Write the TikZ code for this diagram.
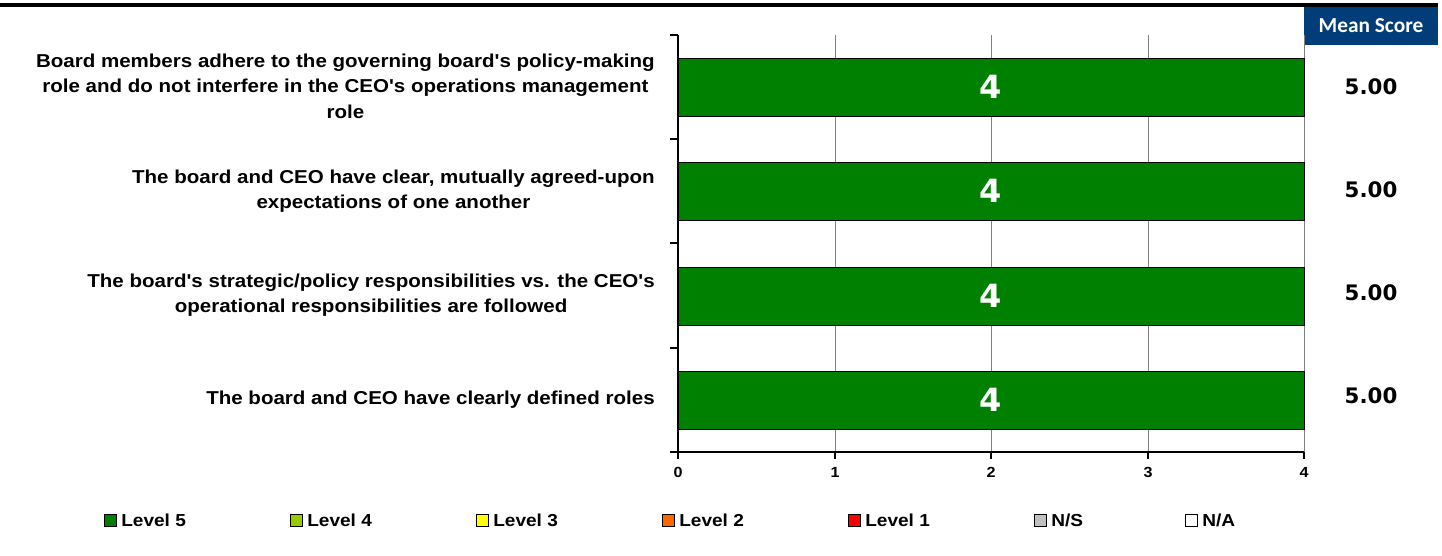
\documentclass[tikz,border=0pt]{standalone}
\usepackage{fontspec}
\setmainfont{Liberation Sans}
\newfontfamily\lblfont[FakeStretch=1.1]{Liberation Sans}
\newfontfamily\numfont{DejaVu Sans}
\newfontfamily\hdrfont{Carlito}
\definecolor{levelfive}{RGB}{0,128,0}
\definecolor{levelfour}{RGB}{153,204,0}
\definecolor{levelthree}{RGB}{255,255,0}
\definecolor{leveltwo}{RGB}{255,102,0}
\definecolor{levelone}{RGB}{255,0,0}
\definecolor{levelns}{RGB}{192,192,192}
\definecolor{hdrblue}{RGB}{0,61,121}
\tikzset{
  qlabel/.style={anchor=east,align=center,inner sep=0pt,font=\lblfont\bfseries\fontsize{14}{19}\selectfont},
  barbox/.style={draw=black,line width=0.6pt,fill=levelfive},
  barnum/.style={text=white,font=\numfont\bfseries\fontsize{24}{24}\selectfont},
  meanval/.style={font=\numfont\bfseries\fontsize{16}{16}\selectfont},
  ticklbl/.style={font=\lblfont\bfseries\fontsize{11}{12}\selectfont},
  legbox/.style={draw=black,line width=0.5pt,minimum size=9pt,inner sep=0pt,anchor=north west},
  legtxt/.style={anchor=west,inner sep=0pt,font=\lblfont\bfseries\fontsize{13}{13}\selectfont},
  gridln/.style={draw={rgb,255:red,128;green,128;blue,128},line width=0.6pt}
}
\begin{document}
\begin{tikzpicture}[x=0.75pt,y=0.75pt,yscale=-1,xscale=1]
\path (0,0) rectangle (1442,556); %set diagram to 1442 x 556

%Top rule
\fill [black] (0,3) rectangle (1438,7) ;
%Header box
\node [fill=hdrblue,text=white,minimum width=100.5pt,minimum height=28.5pt,inner sep=0pt,font=\hdrfont\bfseries\fontsize{16}{16}\selectfont] (hdr) at (1371,26) {Mean Score};

%Grid lines
\draw [gridln] (835,35) -- (835,452) ;
\draw [gridln] (991,35) -- (991,452) ;
\draw [gridln] (1148,35) -- (1148,452) ;
\draw [gridln] (1304,35) -- (1304,452) ;

%Bars
\draw [barbox] (678,58) rectangle (1304,116) ;
\draw [barbox] (678,162) rectangle (1304,220) ;
\draw [barbox] (678,267) rectangle (1304,325) ;
\draw [barbox] (678,371) rectangle (1304,429) ;
\node [barnum] (cnta) at (991,87) {4};
\node [barnum] (cntb) at (991,191) {4};
\node [barnum] (cntc) at (991,296) {4};
\node [barnum] (cntd) at (991,400) {4};

%Axes
\draw [black,line width=0.9pt] (678,35) -- (678,452) ;
\draw [black,line width=0.9pt] (670,452) -- (1304,452) ;
%Left ticks
\draw [black,line width=0.9pt] (670,35) -- (678,35) ;
\draw [black,line width=0.9pt] (670,139) -- (678,139) ;
\draw [black,line width=0.9pt] (670,243) -- (678,243) ;
\draw [black,line width=0.9pt] (670,348) -- (678,348) ;
%Bottom ticks
\draw [black,line width=0.9pt] (678,452) -- (678,459) ;
\draw [black,line width=0.9pt] (835,452) -- (835,459) ;
\draw [black,line width=0.9pt] (991,452) -- (991,459) ;
\draw [black,line width=0.9pt] (1148,452) -- (1148,459) ;
\draw [black,line width=0.9pt] (1304,452) -- (1304,459) ;
\node [ticklbl] (tzero) at (678,472) {0};
\node [ticklbl] (tone) at (835,472) {1};
\node [ticklbl] (ttwo) at (991,472) {2};
\node [ticklbl] (tthree) at (1148,472) {3};
\node [ticklbl] (tfour) at (1304,472) {4};

%Question labels
\node [qlabel] (qa) at (655,86) {Board members adhere to the governing board's policy-making\\role and do not interfere in the CEO's operations management\\role};
\node [qlabel] (qb) at (655,191) {The board and CEO have clear, mutually agreed-upon\\expectations of one another};
\node [qlabel] (qc) at (655,295) {The board's strategic/policy responsibilities vs. the CEO's\\operational responsibilities are followed};
\node [qlabel] (qd) at (655,400) {The board and CEO have clearly defined roles};

%Mean scores
\node [meanval] (mna) at (1371,87) {5.00};
\node [meanval] (mnb) at (1371,190) {5.00};
\node [meanval] (mnc) at (1371,293) {5.00};
\node [meanval] (mnd) at (1371,396) {5.00};

%Legend
\node [legbox,fill=levelfive] (lgfive) at (104,514) {};
\node [legtxt] at (121,520) {Level 5};
\node [legbox,fill=levelfour] (lgfour) at (290,514) {};
\node [legtxt] at (307,520) {Level 4};
\node [legbox,fill=levelthree] (lgthree) at (476,514) {};
\node [legtxt] at (493,520) {Level 3};
\node [legbox,fill=leveltwo] (lgtwo) at (662,514) {};
\node [legtxt] at (679,520) {Level 2};
\node [legbox,fill=levelone] (lgone) at (848,514) {};
\node [legtxt] at (865,520) {Level 1};
\node [legbox,fill=levelns] (lgns) at (1034,514) {};
\node [legtxt] at (1051,520) {N/S};
\node [legbox,fill=white] (lgna) at (1185,514) {};
\node [legtxt] at (1202,520) {N/A};

\end{tikzpicture}
\end{document}
